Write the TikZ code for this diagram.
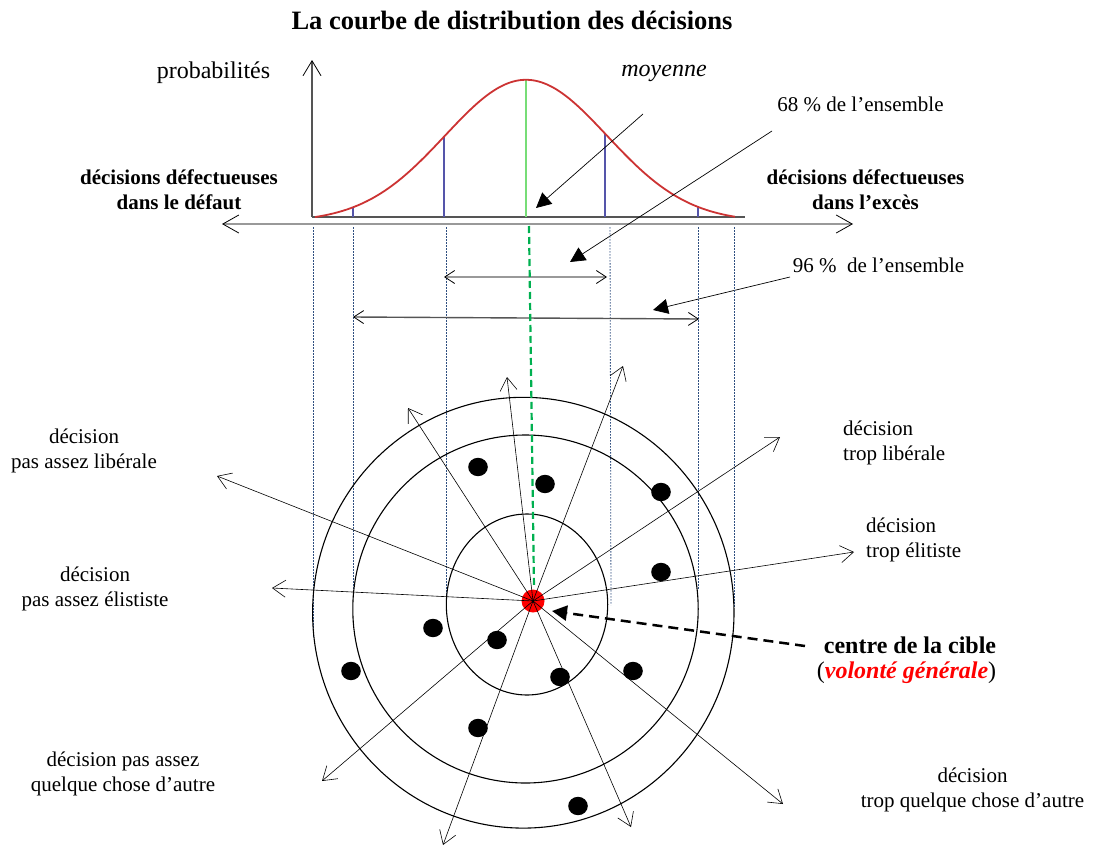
\documentclass[tikz,border=0pt]{standalone}
\usepackage{fontspec}
\setmainfont{Liberation Serif}
\usetikzlibrary{arrows.meta}
\definecolor{curvered}{HTML}{CC3333}
\definecolor{sigblue}{HTML}{5555AA}
\definecolor{dotblue}{HTML}{2F4F80}
\definecolor{lightgreen}{HTML}{77DD77}
\definecolor{dashgreen}{HTML}{00B050}
\definecolor{axisgray}{HTML}{999999}
\definecolor{darkaxis}{HTML}{555555}
\begin{document}
\begin{tikzpicture}[x=1pt,y=-1pt,
  txt/.style={font=\fontsize{21}{25}\selectfont, inner sep=0pt, align=center},
  bigtxt/.style={font=\fontsize{24}{28}\selectfont, inner sep=0pt, align=center},
  boldtxt/.style={font=\fontsize{21}{25}\selectfont\bfseries, inner sep=0pt, align=center},
  spoke/.style={line width=0.6pt, -{Straight Barb[length=13pt,width=17pt,line width=0.6pt]}},
  ring/.style={line width=1.1pt},
  pointer/.style={line width=0.7pt, -{Triangle[length=15pt,width=15pt]}},
  vguide/.style={dotblue, dash pattern=on 1.5pt off 1.5pt, line width=0.8pt},
  span/.style={axisgray, line width=1.4pt, {Straight Barb[length=10pt,width=13pt,line width=0.8pt,black]}-{Straight Barb[length=10pt,width=13pt,line width=0.8pt,black]}},
  dot/.style={fill=black, draw=none},
]
\useasboundingbox (0,0) rectangle (1098,846);

% title
\node[font=\fontsize{26.5}{30}\selectfont\bfseries, inner sep=0pt] (title) at (512,20) {La courbe de distribution des décisions};

% axes
\coordinate (yo) at (312,217);
\coordinate (yt) at (312,60);
\draw[darkaxis, line width=1.6pt, -{Straight Barb[length=15pt,width=18pt,line width=0.8pt,black]}] (yo) -- (yt);
\coordinate (xl) at (222,224);
\coordinate (xr) at (853,224);
\draw[axisgray, line width=1.5pt, {Straight Barb[length=16pt,width=18pt,line width=0.8pt,black]}-{Straight Barb[length=16pt,width=18pt,line width=0.8pt,black]}] (xl) -- (xr);
\coordinate (bl) at (312,217);
\coordinate (br) at (745,217);
\draw[darkaxis, line width=1.3pt] (bl) -- (br);

% sigma lines
\foreach \xx in {353,444,605,698}{
  \draw[sigblue, line width=1.3pt] (\xx,217) -- (\xx,{217-142*exp(-0.5*((\xx-526)/81)^2)+4.8});
}
\draw[lightgreen, line width=1.6pt] (526,217) -- (526,79.8);

% bell curve
\draw[curvered, line width=1.8pt, smooth, samples=90, domain=315:735] plot (\x,{217-142*exp(-0.5*((\x-526)/81)^2)+4.8});

% labels top
\node[bigtxt] (prob) at (213.5,73) {probabilités};
\node[bigtxt, font=\fontsize{24}{28}\selectfont\itshape] (moy) at (664,73) {moyenne};
\node[txt] (p68) at (860.5,104) {68 \% de l’ensemble};
\node[txt] (p96) at (878.5,265) {96 \%\ \ de l’ensemble};
\node[boldtxt] (defl) at (179,190) {décisions défectueuses\\dans le défaut};
\node[boldtxt] (defr) at (865.5,190) {décisions défectueuses\\dans l’excès};

% pointers
\coordinate (m0) at (643,114); \coordinate (m1) at (536,208);
\draw[pointer] (m0) -- (m1);
\coordinate (a0) at (772,131); \coordinate (a1) at (570,262);
\draw[pointer] (a0) -- (a1);
\coordinate (b0) at (790,277); \coordinate (b1) at (653,310);
\draw[pointer] (b0) -- (b1);

% vertical guides
\draw[vguide] (313,227) -- (313,637);
\draw[vguide] (353,227) -- (353,595);
\draw[vguide] (446,227) -- (446,595);
\draw[vguide] (610,227) -- (611,605);
\draw[vguide] (698,227) -- (698,590);
\draw[vguide] (734,227) -- (734,608);

% spans
\coordinate (s68l) at (444,277); \coordinate (s68r) at (607,277);
\draw[span] (s68l) -- (s68r);
\coordinate (s96l) at (353,317); \coordinate (s96r) at (699,319);
\draw[span, draw=darkaxis] (s96l) -- (s96r);

% rings
\draw[ring] (527,604.5) ellipse [x radius=80.7, y radius=90.5];
\draw[ring] (525.5,609) ellipse [x radius=172.7, y radius=174];
\draw[ring] (523.3,612.7) ellipse [x radius=210.7, y radius=215.4];

% green dashed
\coordinate (g0) at (529,226); \coordinate (g1) at (534,588);
\draw[dashgreen, line width=2.2pt, dash pattern=on 7pt off 4pt] (g0) -- (g1);

% centre
\node[circle, fill=red, draw=none, minimum size=23pt, inner sep=0pt] (centre) at (533,601) {};

% spokes
\coordinate (c) at (533,601);
\foreach \px/\py [count=\i] in {408/408, 507/377, 623/366, 780/437, 854/552, 783/804, 631/827, 443/845, 322/781, 272/588, 217/476}{
  \coordinate (e\i) at (\px,\py);
  \draw[spoke] (c) -- (e\i);
}

% dots
\foreach \px/\py in {478/467, 545/484, 661/492, 661/572, 433/628, 497/640, 351/671, 560/677, 633/671, 478/728, 578/806}{
  \fill[dot] (\px,\py) ellipse [x radius=9.8, y radius=9.2];
}

% centre label + dashed arrow
\node[font=\fontsize{24}{28}\selectfont\bfseries, inner sep=0pt] (cible) at (910,645) {centre de la cible};
\node[font=\fontsize{24}{28}\selectfont, inner sep=0pt] (volonte) at (906.5,673) {(\textcolor{red}{\bfseries\itshape volonté générale})};
\coordinate (d0) at (805,646); \coordinate (d1) at (552,611);
\draw[line width=2.5pt, dash pattern=on 10pt off 6pt, -{Triangle[length=15pt,width=15pt]}] (d0) -- (d1);

% side labels
\node[txt] (l1) at (84,450.5) {décision\\pas assez libérale};
\node[txt] (l2) at (95,588.5) {décision\\pas assez élististe};
\node[txt] (l3) at (123,774) {décision pas assez\\quelque chose d’autre};
\node[txt, align=left, anchor=west] (r1) at (843,443) {décision\\trop libérale};
\node[txt, align=left, anchor=west] (r2) at (866,539.5) {décision\\trop élitiste};
\node[txt] (r3) at (972.5,790) {décision\\trop quelque chose d’autre};
\end{tikzpicture}
\end{document}
